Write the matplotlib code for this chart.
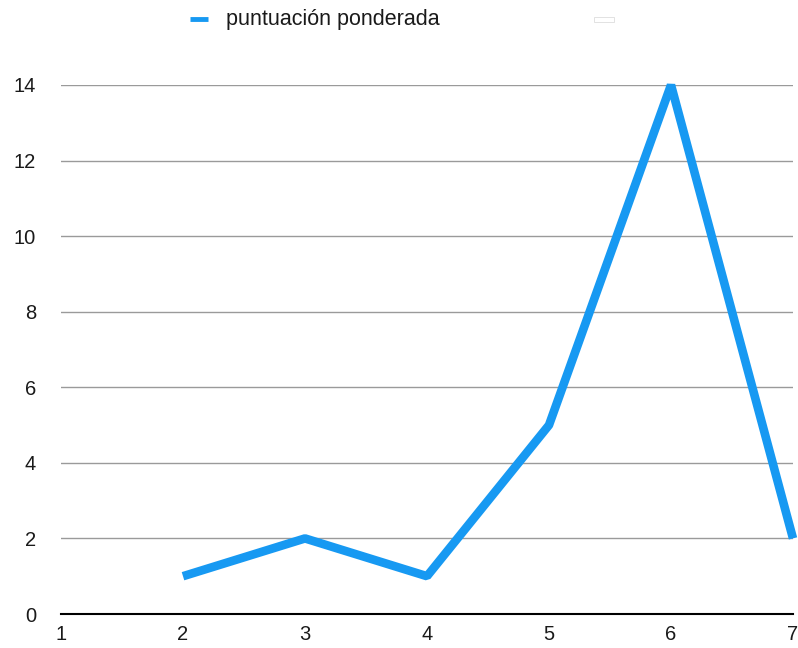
import matplotlib
matplotlib.use("Agg")
import matplotlib.pyplot as plt
from matplotlib.lines import Line2D
from matplotlib.patches import Rectangle

x_vals = [2, 3, 4, 5, 6, 7]
scores = [1, 2, 1, 5, 14, 2]
series_name = "puntuación ponderada"
y_ticks = [0, 2, 4, 6, 8, 10, 12, 14]
x_ticks = [1, 2, 3, 4, 5, 6, 7]

plt.rcParams['font.family'] = ['Liberation Sans', 'DejaVu Sans']

fig = plt.figure(figsize=(7.98, 6.48), dpi=100)
ax = fig.add_axes([61/798, 1 - 614/648, (793 - 61)/798, (614 - 85)/648])

ax.plot(x_vals, scores, color='#1799f2', lw=6.2, solid_joinstyle='bevel',
        solid_capstyle='butt', clip_on=False, zorder=3)

ax.set_xlim(1, 7)
ax.set_ylim(0, 14)
ax.set_yticks(y_ticks)
ax.set_xticks(x_ticks)
ax.tick_params(axis='both', length=0, labelsize=14.5, colors='#1a1a1a')
ax.tick_params(axis='y', pad=18)
ax.tick_params(axis='x', pad=8)
for s in ['top', 'right', 'left']:
    ax.spines[s].set_visible(False)
ax.spines['bottom'].set_color('black')
ax.spines['bottom'].set_linewidth(1.5)
ax.spines['bottom'].set_zorder(4)
ax.grid(axis='y', color='#9a9a9a', lw=1)
ax.set_axisbelow(True)

# legend row above the plot
fig.add_artist(Line2D([190/798, 208/798], [1 - 19/648] * 2, color='#1799f2',
                      lw=3.5, solid_capstyle='butt'))
fig.text(226/798, 1 - 19/648, series_name, fontsize=15.5, va='center',
         ha='left', color='#1a1a1a')
fig.add_artist(Rectangle((594/798, 1 - 22/648), 20/798, 5/648,
                         facecolor='white', edgecolor='#dddddd', lw=0.6))

fig.savefig('out.png', dpi=100)
